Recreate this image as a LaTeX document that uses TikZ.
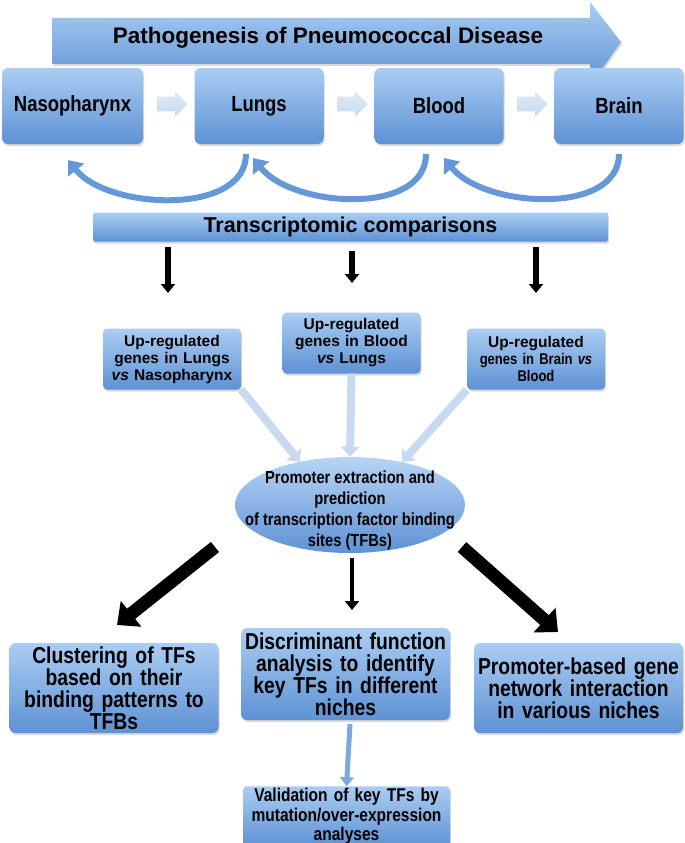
\documentclass[tikz,border=0pt]{standalone}
\usepackage{fontspec}
\setmainfont{Liberation Sans}
\newfontfamily\narrowfont{Liberation Sans}[FakeStretch=0.84]
\usetikzlibrary{shapes.geometric,shapes.arrows,arrows.meta,shadows}
\definecolor{btop}{RGB}{170,205,243}
\definecolor{bbot}{RGB}{94,146,212}
\definecolor{lightarr}{RGB}{200,218,240}
\definecolor{midarr}{RGB}{125,168,222}
\definecolor{curvearr}{RGB}{100,152,216}
\tikzset{
  bluebox/.style={rounded corners=6pt, top color=btop, bottom color=bbot, draw=none,
    align=center, inner sep=2pt,
    drop shadow={shadow xshift=1pt,shadow yshift=-2pt,opacity=0.3}},
  nichebox/.style={bluebox, minimum width=129pt, minimum height=76pt,
    font=\narrowfont\bfseries\fontsize{22}{24}\selectfont},
  upbox/.style={bluebox, rounded corners=4pt, minimum width=136pt, minimum height=61pt, text width=134pt,
    font=\bfseries\fontsize{15.5}{17}\selectfont},
  bigbox/.style={bluebox, minimum width=207pt, minimum height=90pt, text width=205pt,
    font=\narrowfont\bfseries\fontsize{23}{22}\selectfont},
  smallarrow/.style={single arrow, top color=lightarr!60, bottom color=lightarr, draw=none,
    minimum height=30pt, minimum width=25pt, inner xsep=4pt, inner ysep=7pt,
    single arrow head extend=5pt},
  curved/.style={draw=curvearr, line width=6pt, -{Triangle[width=20pt,length=13pt]}},
  feed/.style={draw=lightarr, line width=8pt, -{Triangle[width=18pt,length=10pt]}},
  blackarrow/.style={draw=black, line width=5.5pt, -{Triangle[width=14pt,length=9pt]}},
  fatarrow/.style={draw=black, line width=13pt, -{Triangle[width=32pt,length=18pt]}},
}
\begin{document}
\begin{tikzpicture}[x=1pt,y=-1pt]
\useasboundingbox (0,0) rectangle (685,843);
% top arrow
\shade[top color=btop, bottom color=bbot, drop shadow={shadow xshift=1pt,shadow yshift=-2pt,opacity=0.3}]
  (52,18) -- (590,18) -- (590,2) -- (621,42) -- (590,86) -- (590,64) -- (52,64) -- cycle;
\node[font=\bfseries\fontsize{22.5}{26}\selectfont] (title) at (328,38) {Pathogenesis of Pneumococcal Disease};
% niche boxes
\node[nichebox, minimum width=141pt] (naso) at (72.5,106) {Nasopharynx};
\node[nichebox] (lungs) at (259,106) {Lungs};
\node[nichebox] (blood) at (439,106) {Blood};
\node[nichebox] (brain) at (619,106) {Brain};
% small arrows between niches
\node[smallarrow] (a1) at (169,104) {};
\node[smallarrow] (a2) at (349,104) {};
\node[smallarrow] (a3) at (529,104) {};
% curved return arrows
\coordinate (c1s) at (246,154); \coordinate (c1e) at (68,160);
\coordinate (c2s) at (426,154); \coordinate (c2e) at (253,158);
\coordinate (c3s) at (619,154); \coordinate (c3e) at (444,158);
\draw[curved] (c1s) .. controls +(0,62) and +(40,50) .. (c1e);
\draw[curved] (c2s) .. controls +(0,62) and +(40,50) .. (c2e);
\draw[curved] (c3s) .. controls +(0,62) and +(40,50) .. (c3e);
% transcriptomic bar
\node[bluebox, rounded corners=2pt, minimum width=515pt, minimum height=29pt,
  font=\bfseries\fontsize{21.5}{24}\selectfont] (trans) at (350.5,227) {Transcriptomic comparisons};
\coordinate (t1) at (168,247);
\coordinate (t2) at (352,251);
\coordinate (t3) at (536,247);
\coordinate (t1e) at (168,293);
\coordinate (t2e) at (352,283);
\coordinate (t3e) at (536,293);
\draw[blackarrow] (t1) -- (t1e);
\draw[blackarrow] (t2) -- (t2e);
\draw[blackarrow] (t3) -- (t3e);
% up-regulated boxes
\node[upbox] (up1) at (172,359) {Up-regulated\\genes in Lungs\\\textit{vs} Nasopharynx};
\node[upbox] (up2) at (351.5,343) {Up-regulated\\genes in Blood\\\textit{vs} Lungs};
\node[upbox] (up3) at (536,359) {Up-regulated\\{\narrowfont genes in Brain \textit{vs}}\\{\narrowfont Blood}};
% ellipse
\node[ellipse, top color=btop!85, bottom color=bbot, minimum width=230pt, minimum height=96pt,
  inner sep=0pt] (prom) at (350,505) {};
\node[align=center, inner sep=0pt, font=\narrowfont\bfseries\fontsize{17.5}{21}\selectfont] (promtext) at ([yshift=-5pt]prom.center)
  {Promoter extraction and\\prediction\\of transcription factor binding\\sites (TFBs)};
\coordinate (p1) at (300,462);
\coordinate (p3) at (402,462);
\draw[feed] (up1.south east) -- (p1);
\draw[feed] (up2.south) -- (prom.north);
\draw[feed] (up3.south west) -- (p3);
% bottom boxes
\node[bigbox] (clus) at (114,688) {Clustering of TFs\\based on their\\binding patterns to\\TFBs};
\node[bigbox, minimum width=205pt, minimum height=92pt] (disc) at (345.5,674) {Discriminant function\\analysis to identify\\key TFs in different\\niches};
\node[bigbox] (net) at (578.5,688) {Promoter-based gene\\network interaction\\in various niches};
\node[bluebox, rounded corners=4pt, minimum width=203pt, minimum height=53pt, text width=203pt,
  font=\narrowfont\bfseries\fontsize{18.5}{19.5}\selectfont] (valid) at (346.5,816.5)
  {Validation of key TFs by\\mutation/over-expression\\analyses};
\coordinate (f1) at (215,547); \coordinate (f1e) at (117,625);
\coordinate (f2) at (352,558); \coordinate (f2e) at (352,610);
\coordinate (f3) at (462,547); \coordinate (f3e) at (558,632);
\draw[fatarrow] (f1) -- (f1e);
\draw[blackarrow, line width=4pt] (f2) -- (f2e);
\draw[fatarrow] (f3) -- (f3e);
\coordinate (d1) at (350,724);
\draw[draw=midarr, line width=5pt, -{Triangle[width=14pt,length=9pt]}] (d1) -- (valid.north);
\end{tikzpicture}
\end{document}
